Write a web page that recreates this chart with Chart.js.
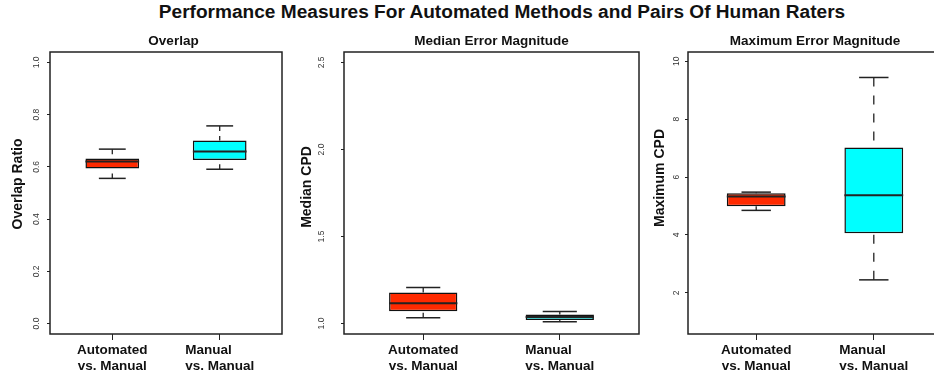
<!DOCTYPE html>
<html><head><meta charset="utf-8">
<script src="https://cdn.jsdelivr.net/npm/chart.js@4.4.1/dist/chart.umd.min.js"></script>
<style>
html,body{margin:0;padding:0;width:934px;height:380px;overflow:hidden;background:#fff;}
#main{position:absolute;left:0;top:3px;width:1004px;text-align:center;font-weight:bold;font-size:18px;font-family:"Liberation Sans",Arial,Helvetica,sans-serif;line-height:18px;color:#111;transform:scaleX(1.06);transform-origin:502px 0;white-space:nowrap;}
canvas{position:absolute;top:0;}
</style></head><body>
<div id="main">Performance Measures For Automated Methods and Pairs Of Human Raters</div>
<canvas id="c1"></canvas><canvas id="c2"></canvas><canvas id="c3"></canvas>
<script>
// ---- data ----
const categories = [['Automated', 'vs. Manual'], ['Manual\u00a0\u00a0\u00a0\u00a0\u00a0\u00a0', 'vs. Manual']];
// box statistics: [lower whisker, Q1, median, Q3, upper whisker]
const overlapAutomated = [0.556, 0.594, 0.621, 0.632, 0.668];
const overlapManual    = [0.591, 0.626, 0.659, 0.701, 0.757];
const medianAutomated  = [1.034, 1.071, 1.117, 1.178, 1.207];
const medianManual     = [1.010, 1.021, 1.038, 1.052, 1.069];
const maximumAutomated = [4.85, 4.99, 5.33, 5.44, 5.48];
const maximumManual    = [2.45, 4.06, 5.37, 7.02, 9.44];
const overlapTicks = [0, 0.2, 0.4, 0.6, 0.8, 1.0];
const overlapTickLabels = ['0.0', '0.2', '0.4', '0.6', '0.8', '1.0'];
const medianTicks = [1.0, 1.5, 2.0, 2.5];
const medianTickLabels = ['1.0', '1.5', '2.0', '2.5'];
const maximumTicks = [2, 4, 6, 8, 10];
const maximumTickLabels = ['2', '4', '6', '8', '10'];
const boxColors = ['#ff2a00', '#00ffff'];

// ---- layout ----
const FONT = '"Liberation Sans", Arial, Helvetica, sans-serif';
const TOP = 52, BOTTOM = 334, YW = 48, XH = 380 - BOTTOM, RP = 4;
const TICKFONT = 8.5;
const panels = [
  {id:'c1', title:'\u00a0\u00a0\u00a0\u00a0Overlap', yTitle:'Overlap Ratio', left:50, right:282, ymin:-0.04, ymax:1.04,
   ticks:overlapTicks, labels:overlapTickLabels, stats:[overlapAutomated, overlapManual],
   yTitleX:18, yTitleY:184, tickLabelX:36.3, dash:[5,5]},
  {id:'c2', title:'Median Error Magnitude', yTitle:'Median CPD', left:344, right:639, ymin:0.94, ymax:2.56,
   ticks:medianTicks, labels:medianTickLabels, stats:[medianAutomated, medianManual],
   yTitleX:306.7, yTitleY:187, tickLabelX:322, dash:[5,5]},
  {id:'c3', title:'Maximum Error Magnitude', yTitle:'Maximum CPD', left:688, right:942, ymin:0.58, ymax:10.32,
   ticks:maximumTicks, labels:maximumTickLabels, stats:[maximumAutomated, maximumManual],
   yTitleX:660, yTitleY:178, tickLabelX:677, dash:[9,9]}
];

const measureCtx = document.createElement('canvas').getContext('2d');
function textWidth(t, font){ measureCtx.font = font; return measureCtx.measureText(t).width; }

const framePlugin = {
  id: 'frame',
  afterDatasetsDraw(chart) {
    const a = chart.chartArea, ctx = chart.ctx;
    ctx.save();
    ctx.strokeStyle = '#222'; ctx.lineWidth = 1.5;
    ctx.strokeRect(a.left, a.top, a.right - a.left, a.bottom - a.top);
    ctx.restore();
  }
};
const yTitlePlugin = {
  id: 'yTitleText',
  afterDraw(chart, args, opts) {
    const ctx = chart.ctx;
    ctx.save();
    ctx.font = 'bold 14px ' + FONT;
    ctx.fillStyle = '#111';
    ctx.textAlign = 'center'; ctx.textBaseline = 'middle';
    ctx.translate(opts.x, opts.y); ctx.rotate(-Math.PI / 2);
    ctx.fillText(opts.text, 0, 0);
    ctx.restore();
  }
};

function buildDatasets(p) {
  const ds = [{
    type: 'bar', order: 2,
    data: p.stats.map((s, i) => ({x: i + 1, y: [s[1], s[3]]})),
    backgroundColor: boxColors, borderColor: '#111', borderWidth: 1.5, borderSkipped: false,
    barPercentage: 0.5, categoryPercentage: 1, grouped: false
  }];
  p.stats.forEach((s, i) => {
    const x = i + 1;
    const seg = (pts, dash, w) => ds.push({type: 'line', order: 1, data: pts, borderColor: '#222',
      borderWidth: w, borderDash: dash, pointRadius: 0, pointHoverRadius: 0, fill: false, tension: 0});
    seg([{x, y: s[4]}, {x, y: s[3]}], p.dash, 1.3);
    seg([{x, y: s[0]}, {x, y: s[1]}], p.dash, 1.3);
    seg([{x: x - 0.125, y: s[4]}, {x: x + 0.125, y: s[4]}], [], 1.5);
    seg([{x: x - 0.125, y: s[0]}, {x: x + 0.125, y: s[0]}], [], 1.5);
    seg([{x: x - 0.25, y: s[2]}, {x: x + 0.25, y: s[2]}], [], 2);
  });
  return ds;
}

panels.forEach(p => {
  const cv = document.getElementById(p.id);
  const canvasLeft = p.left - YW;
  const w = YW + (p.right - p.left) + RP;
  cv.width = w; cv.height = 380;
  cv.style.left = canvasLeft + 'px';
  cv.style.width = w + 'px'; cv.style.height = '380px';
  const tickFontStr = TICKFONT + 'px ' + FONT;
  const widest = Math.max(...p.labels.map(l => textWidth(l, tickFontStr)));
  const tl = 3;
  const pad = (p.left - p.tickLabelX) - tl - widest / 2;
  new Chart(cv, {
    type: 'bar',
    data: {datasets: buildDatasets(p)},
    plugins: [framePlugin, yTitlePlugin],
    options: {
      responsive: false, animation: false, devicePixelRatio: 1,
      layout: {padding: {top: TOP - 19, bottom: 0, left: 0, right: RP}},
      plugins: {
        legend: {display: false}, tooltip: {enabled: false},
        title: {display: true, text: p.title, fullSize: false, color: '#111',
          font: {family: FONT, size: 13.5, weight: 'bold', lineHeight: '16px'}, padding: {top: 0, bottom: 3}},
        yTitleText: {text: p.yTitle, x: p.yTitleX - canvasLeft, y: p.yTitleY}
      },
      scales: {
        x: {
          type: 'linear', min: 0.42, max: 2.58, offset: false,
          afterBuildTicks: s => { s.ticks = categories.map((c, i) => ({value: i + 1})); },
          afterFit: s => { s.height = XH; },
          ticks: {autoSkip: false, maxRotation: 0, minRotation: 0, padding: 2.5, color: '#111',
            font: {family: FONT, size: 13.5, weight: 'bold', lineHeight: 1.15},
            callback: (v, i) => categories[i]},
          grid: {display: true, offset: false, drawOnChartArea: false, drawTicks: true, tickLength: 6, color: '#222', lineWidth: 1},
          border: {display: false}
        },
        y: {
          type: 'linear', min: p.ymin, max: p.ymax,
          afterBuildTicks: s => { s.ticks = p.ticks.map(v => ({value: v})); },
          afterFit: s => { s.width = YW; },
          ticks: {autoSkip: false, minRotation: 90, maxRotation: 90, crossAlign: 'center', padding: pad,
            color: '#333', font: {family: FONT, size: TICKFONT}, callback: (v, i) => p.labels[i]},
          grid: {display: true, drawOnChartArea: false, drawTicks: true, tickLength: tl, color: '#222', lineWidth: 1},
          border: {display: false}
        }
      }
    }
  });
});
</script>
</body></html>
